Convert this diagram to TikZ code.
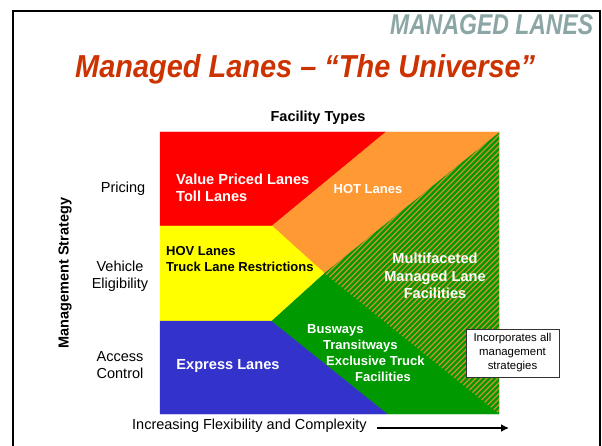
\documentclass[tikz,border=0pt]{standalone}
\usepackage{fontspec}
\setmainfont{Liberation Sans}
\usetikzlibrary{arrows.meta}
\definecolor{redA}{RGB}{255,0,0}
\definecolor{orangeA}{RGB}{255,153,51}
\definecolor{yellowA}{RGB}{255,255,0}
\definecolor{blueA}{RGB}{51,51,204}
\definecolor{greenA}{RGB}{0,153,0}
\definecolor{stripeA}{RGB}{205,145,45}
\definecolor{titleA}{RGB}{204,51,0}
\definecolor{logoA}{RGB}{140,166,166}
\begin{document}
\begin{tikzpicture}[x=1pt,y=-1pt,
  big/.style={font=\fontsize{14.6}{17.5}\selectfont\bfseries, text=white, inner sep=0pt},
  small/.style={font=\fontsize{13}{16}\selectfont\bfseries, text=white, inner sep=0pt},
  lbl/.style={font=\fontsize{14.5}{17}\selectfont, inner sep=0pt, align=center},
  lblb/.style={font=\fontsize{14.5}{17}\selectfont\bfseries, inner sep=0pt, align=center},
  region/.style={line width=0.4pt, line join=round}]
\useasboundingbox (0,0) rectangle (602,446);
\clip (0,0) rectangle (602,446);
\fill[white] (0,0) rectangle (602,446);
% frame
\draw[line width=2pt] (13,460) -- (13,11) -- (600,11) -- (600,460);
% logo and title
\node[anchor=base west, inner sep=0pt, text=logoA] (logo) at (390,35) {\resizebox{203pt}{20pt}{\bfseries\itshape MANAGED LANES}};
\node[anchor=base west, inner sep=0pt, text=titleA] (title) at (75,78) {\resizebox{460pt}{23pt}{\bfseries\itshape Managed Lanes – “The Universe”}};
% corner coordinates of the chart
\coordinate (TL) at (160,132);
\coordinate (A) at (386,132);
\coordinate (TR) at (499,132);
\coordinate (R1) at (160,226);
\coordinate (B) at (272,226);
\coordinate (C) at (324,273);
\coordinate (R2) at (160,321);
\coordinate (D) at (271,321);
\coordinate (BL) at (160,414);
\coordinate (E) at (387,414);
\coordinate (BR) at (499,414);
% regions
\filldraw[region, fill=greenA, draw=greenA] (D) -- (C) -- (TR) -- (BR) -- (E) -- cycle;
\filldraw[region, fill=redA, draw=redA] (TL) -- (A) -- (B) -- (R1) -- cycle;
\filldraw[region, fill=orangeA, draw=orangeA] (A) -- (TR) -- (C) -- (B) -- cycle;
\filldraw[region, fill=yellowA, draw=yellowA] (R1) -- (B) -- (C) -- (D) -- (R2) -- cycle;
\filldraw[region, fill=blueA, draw=blueA] (R2) -- (D) -- (E) -- (BL) -- cycle;
% hatched triangle
\begin{scope}
  \clip (TR) -- (C) -- (BR) -- cycle;
  \foreach \x in {170,175.5,...,505} {
    \draw[stripeA, line width=1.2pt] (\x,420) -- ++(300,-300);
  }
\end{scope}
% region texts
\node[big, anchor=west, align=left] (vpl) at (176,188) {Value Priced Lanes\\Toll Lanes};
\node[small] (hot) at (368,189) {HOT Lanes};
\node[small, text=black, anchor=west, align=left] (hov) at (166,259) {HOV Lanes\\Truck Lane Restrictions};
\node[big, align=center] (multi) at (435,276) {Multifaceted\\Managed Lane\\Facilities};
\node[small, anchor=west] (bus) at (307,330) {Busways};
\node[small, anchor=west] (trans) at (323,346) {Transitways};
\node[small, anchor=west] (excl) at (326,361) {Exclusive Truck};
\node[small, anchor=west] (fac) at (355,377) {Facilities};
\node[big] (expr) at (228,366) {Express Lanes};
% axis labels
\node[lblb] (ft) at (318,118) {Facility Types};
\node[lblb, rotate=90] (ms) at (65,273) {Management Strategy};
\node[lbl] (pricing) at (123,189) {Pricing};
\node[lbl] (veh) at (120,276) {Vehicle\\Eligibility};
\node[lbl] (acc) at (120,365) {Access\\Control};
% note box
\fill[black!35] (466.5,329.5) rectangle (560,378);
\node[draw=black!80, fill=white, line width=0.7pt, font=\fontsize{11.4}{14}\selectfont, align=center,
      minimum width=93pt, minimum height=48pt, inner sep=0pt] (box) at (512.5,353) {Incorporates all\\management\\strategies};
% bottom axis
\node[lbl, anchor=west] (inc) at (132,426) {Increasing Flexibility and Complexity};
\coordinate (arrS) at (377,428);
\coordinate (arrE) at (509,428);
\draw[line width=2.6pt, -{Latex[length=8pt,width=8pt]}] (arrS) -- (arrE);
\end{tikzpicture}
\end{document}
